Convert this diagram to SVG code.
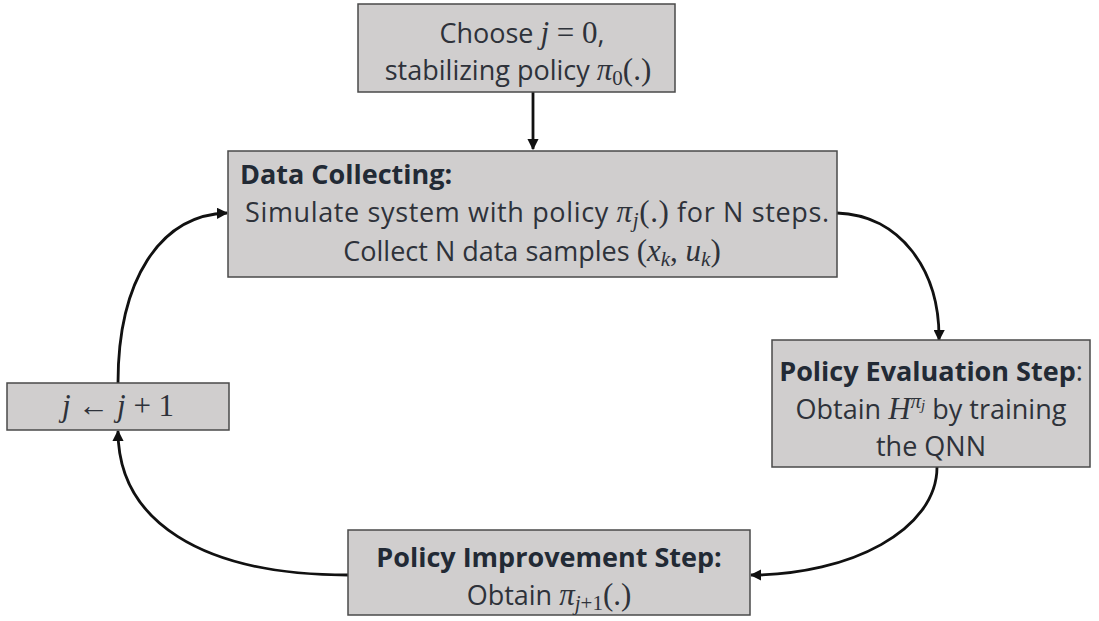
<svg xmlns="http://www.w3.org/2000/svg" width="1099" height="621" viewBox="0 0 1099 621">
<style>
.box{fill:#d0cece;stroke:#4a4a4a;stroke-width:1.5}
.t{font-family:"Open Sans","Liberation Sans",sans-serif;font-size:27px;fill:#2e323a}
.b{font-weight:bold;fill:#222a35}
.m{font-family:"Liberation Serif","DejaVu Serif",serif;font-style:italic;font-size:31px}
.n{font-family:"Liberation Serif","DejaVu Serif",serif;font-style:normal;font-size:31px}
.s{font-size:21px}
.e{fill:none;stroke:#111;stroke-width:2.8}
</style>
<defs>
<marker id="ah" viewBox="0 0 10 10" refX="9" refY="5" markerWidth="4" markerHeight="4" orient="auto" markerUnits="strokeWidth">
<path d="M0,0 L10,5 L0,10 z" fill="#111"/>
</marker>
</defs>
<rect width="1099" height="621" fill="#fff"/>
<g id="connectors">
<path class="e" d="M533,92 L533,149" marker-end="url(#ah)"/>
<path class="e" d="M837,213 C900,215 940,270 939,340" marker-end="url(#ah)"/>
<path class="e" d="M937,467 C937,530 850,575 751,575" marker-end="url(#ah)"/>
<path class="e" d="M348,575 C200,575 118,520 118,431" marker-end="url(#ah)"/>
<path class="e" d="M118,383 C118,280 160,215 227,213" marker-end="url(#ah)"/>
</g>
<g id="start">
<rect class="box" x="358" y="4" width="317" height="88"/>
<text class="t" x="522" y="43" text-anchor="middle">Choose <tspan class="m">j</tspan><tspan class="n"> = 0</tspan>,</text>
<text class="t" x="518" y="80" text-anchor="middle">stabilizing policy <tspan class="m">π</tspan><tspan class="n s" dy="5">0</tspan><tspan class="n" dy="-5">(.)</tspan></text>
</g>
<g id="data">
<rect class="box" x="228" y="151" width="609" height="126"/>
<text class="t b" x="240" y="184">Data Collecting:</text>
<text class="t" x="537" y="222" text-anchor="middle" textLength="584">Simulate system with policy <tspan class="m">π</tspan><tspan class="m s" dy="5">j</tspan><tspan class="n" dy="-5">(.)</tspan> for N steps.</text>
<text class="t" x="532" y="261" text-anchor="middle">Collect N data samples <tspan class="n">(</tspan><tspan class="m">x</tspan><tspan class="m s" dy="5">k</tspan><tspan class="n" dy="-5">, </tspan><tspan class="m">u</tspan><tspan class="m s" dy="5">k</tspan><tspan class="n" dy="-5">)</tspan></text>
</g>
<g id="eval">
<rect class="box" x="772" y="340" width="318" height="127"/>
<text class="t" x="931" y="381" text-anchor="middle"><tspan class="b">Policy Evaluation Step</tspan>:</text>
<text class="t" x="931" y="419" text-anchor="middle">Obtain <tspan class="m">H</tspan><tspan class="m s" dy="-11">π</tspan><tspan class="m" style="font-size:15px" dy="2">j</tspan><tspan dy="9"> by training</tspan></text>
<text class="t" x="931" y="456" text-anchor="middle">the QNN</text>
</g>
<g id="improve">
<rect class="box" x="348" y="530" width="402" height="85"/>
<text class="t b" x="549" y="567" text-anchor="middle">Policy Improvement Step:</text>
<text class="t" x="549" y="605" text-anchor="middle">Obtain <tspan class="m">π</tspan><tspan class="s" dy="5"><tspan class="m s">j</tspan><tspan class="n s">+1</tspan></tspan><tspan class="n" dy="-5">(.)</tspan></text>
</g>
<g id="incr">
<rect class="box" x="7" y="383" width="222" height="47"/>
<text class="t" x="118" y="416" text-anchor="middle"><tspan class="m">j</tspan><tspan class="n"> ← </tspan><tspan class="m">j</tspan><tspan class="n"> + 1</tspan></text>
</g>
</svg>
